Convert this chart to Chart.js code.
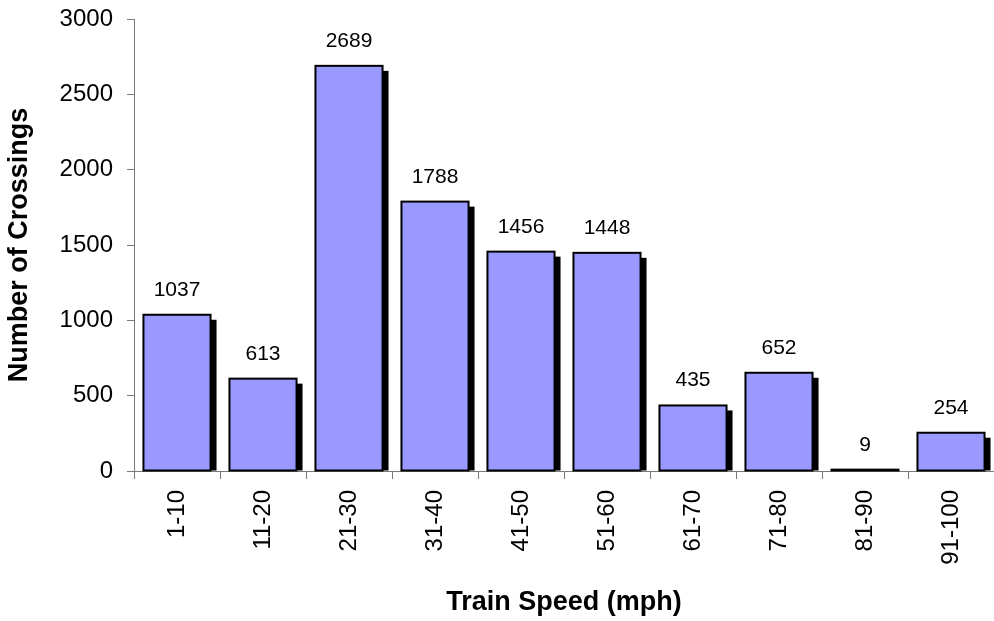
<!DOCTYPE html>
<html>
<head>
<meta charset="utf-8">
<script src="https://cdn.jsdelivr.net/npm/chart.js@4/dist/chart.umd.min.js"></script>
<style>
  html, body { margin: 0; padding: 0; background: #fff; }
  #wrap { width: 994px; height: 621px; }
</style>
</head>
<body>
<div id="wrap"><canvas id="c" width="994" height="621"></canvas></div>
<script>
// Crossings counted per train speed band
const speedBands = ['1-10', '11-20', '21-30', '31-40', '41-50', '51-60', '61-70', '71-80', '81-90', '91-100'];
const crossings = [1037, 613, 2689, 1788, 1456, 1448, 435, 652, 9, 254];
const yTicks = [0, 500, 1000, 1500, 2000, 2500, 3000];

const FONT = '"Liberation Sans", Arial, sans-serif';
const AXIS_GREY = '#7a7a7a';

// Drop shadow behind each bar, then an outline and value label on top
const barDecor = {
  id: 'barDecor',
  beforeDatasetsDraw(chart) {
    const ctx = chart.ctx;
    const area = chart.chartArea;
    chart.getDatasetMeta(0).data.forEach(el => {
      const w = el.width;
      const top = el.y + 5;
      const bottom = el.base;
      if (bottom - top <= 0) return;
      ctx.save();
      ctx.beginPath();
      ctx.rect(area.left, area.top - 20, area.right - area.left + 20, area.bottom - area.top + 20);
      ctx.clip();
      ctx.fillStyle = '#000';
      ctx.fillRect(el.x - w / 2 + 6, top, w, bottom - top);
      ctx.restore();
    });
  },
  afterDatasetsDraw(chart) {
    const ctx = chart.ctx;
    const ds = chart.data.datasets[0];
    chart.getDatasetMeta(0).data.forEach((el, i) => {
      const w = el.width;
      ctx.save();
      ctx.strokeStyle = '#000';
      ctx.lineWidth = 2;
      ctx.strokeRect(el.x - w / 2, el.y, w, el.base - el.y);
      ctx.fillStyle = '#000';
      ctx.font = '21px ' + FONT;
      ctx.textAlign = 'center';
      ctx.textBaseline = 'alphabetic';
      ctx.fillText(String(ds.data[i]), el.x, el.y - 19);
      ctx.restore();
    });
  }
};

new Chart(document.getElementById('c'), {
  type: 'bar',
  data: {
    labels: speedBands,
    datasets: [{
      data: crossings,
      backgroundColor: '#9999ff',
      borderWidth: 0,
      categoryPercentage: 1.0,
      barPercentage: 0.78
    }]
  },
  options: {
    responsive: false,
    animation: false,
    events: [],
    layout: { padding: { top: 19, right: 0, bottom: 0, left: 0 } },
    plugins: {
      legend: { display: false },
      tooltip: { enabled: false }
    },
    scales: {
      x: {
        offset: true,
        grid: {
          offset: true,
          drawOnChartArea: false,
          drawTicks: true,
          tickLength: 8,
          color: AXIS_GREY
        },
        border: { display: true, color: AXIS_GREY, width: 1 },
        ticks: {
          color: '#000',
          font: { family: FONT, size: 24 },
          maxRotation: 90,
          minRotation: 90,
          padding: 11,
          autoSkip: false
        },
        title: {
          display: true,
          text: 'Train Speed (mph)',
          color: '#000',
          font: { family: FONT, size: 27, weight: 'bold' },
          padding: { top: 0, bottom: 2 }
        },
        afterFit(scale) {
          scale.height = 150;
          scale.paddingLeft = 0;
          scale.paddingRight = 0;
        }
      },
      y: {
        min: 0,
        max: 3000,
        afterBuildTicks(scale) { scale.ticks = yTicks.map(v => ({ value: v })); },
        grid: {
          drawOnChartArea: false,
          drawTicks: true,
          tickLength: 7,
          color: AXIS_GREY
        },
        border: { display: true, color: AXIS_GREY, width: 1 },
        ticks: {
          color: '#000',
          font: { family: FONT, size: 24 },
          padding: 14,
          callback: v => String(v)
        },
        title: {
          display: true,
          text: 'Number of Crossings',
          color: '#000',
          font: { family: FONT, size: 27, weight: 'bold' },
          padding: { top: 3, bottom: 0 }
        },
        afterFit(scale) {
          scale.width = 134;
          scale.paddingTop = 0;
          scale.paddingBottom = 0;
        }
      }
    }
  },
  plugins: [barDecor]
});
</script>
</body>
</html>
